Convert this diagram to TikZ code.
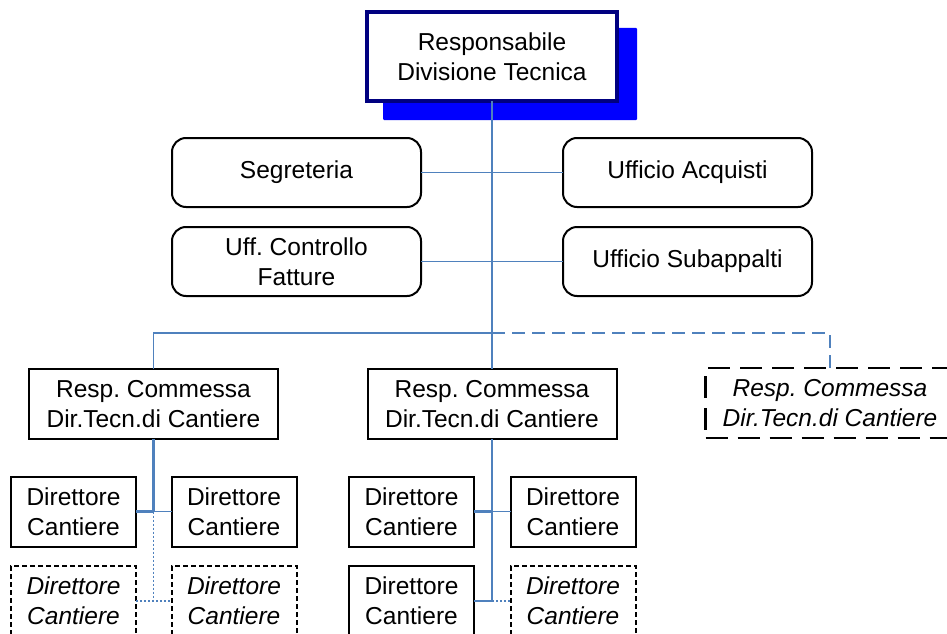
\documentclass[tikz,border=0pt]{standalone}
\usepackage{fontspec}
\setmainfont{Liberation Sans}
\frenchspacing
\definecolor{conn}{RGB}{79,129,189}
\definecolor{navyb}{RGB}{0,0,128}
\definecolor{shadowb}{RGB}{0,0,255}
\begin{document}
\begin{tikzpicture}[x=1pt,y=-1pt,
  every node/.style={font=\fontsize{24.5}{30}\selectfont\frenchspacing, align=center, inner sep=0pt, outer sep=0pt},
  topbox/.style={draw=navyb, line width=4pt, fill=white, minimum width=250pt, minimum height=89pt},
  roundbox/.style={draw=black, line width=2pt, rounded corners=14pt, fill=white, minimum width=249pt, minimum height=69pt},
  respbox/.style={draw=black, line width=2pt, fill=white, minimum width=249pt, minimum height=70pt},
  respdash/.style={respbox, dash pattern=on 22pt off 10pt, line width=2.5pt, font=\fontsize{24.5}{30}\selectfont\frenchspacing\itshape},
  dirbox/.style={draw=black, line width=2pt, fill=white, minimum width=125pt, minimum height=70pt},
  dirdash/.style={dirbox, dash pattern=on 5pt off 3pt, font=\fontsize{24.5}{30}\selectfont\itshape},
  cline/.style={draw=conn, line width=1.9pt},
  cthin/.style={draw=conn, line width=1.5pt},
  cthick/.style={draw=conn, line width=2.8pt},
  cdash/.style={draw=conn, line width=1.8pt, dash pattern=on 13pt off 7pt},
  cdot/.style={draw=conn, line width=1.5pt, dash pattern=on 2pt off 2pt}
]
\useasboundingbox (0,0) rectangle (947,634);
\clip (0,0) rectangle (947,634);
\fill[white] (0,0) rectangle (947,634);

% shadow and top box
\fill[shadowb, rounded corners=1pt] (383,28) rectangle (637,120);
\node[topbox] (top) at (492,56.5) {Responsabile\\Divisione Tecnica};

% staff offices
\node[roundbox] (seg) at (296.5,172.5) {Segreteria};
\node[roundbox] (acq) at (687.5,172.5) {Ufficio Acquisti};
\node[roundbox] (fat) at (296.5,261.5) {Uff. Controllo\\Fatture};
\node[roundbox] (sub) at (687.5,261.5) {Ufficio Subappalti};

% project managers
\node[respbox] (r1) at (153.5,404) {Resp. Commessa\\Dir.Tecn.di Cantiere};
\node[respbox] (r2) at (492,404) {Resp. Commessa\\Dir.Tecn.di Cantiere};
\node[respdash] (r3) at (830,403) {Resp. Commessa\\Dir.Tecn.di Cantiere};

% site directors
\node[dirbox] (d1) at (73.5,511.5) {Direttore\\Cantiere};
\node[dirbox] (d2) at (234,511.5) {Direttore\\Cantiere};
\node[dirdash] (d3) at (73.5,601) {Direttore\\Cantiere};
\node[dirdash] (d4) at (234,601) {Direttore\\Cantiere};
\node[dirbox] (m1) at (411.5,511.5) {Direttore\\Cantiere};
\node[dirbox] (m2) at (573,511.5) {Direttore\\Cantiere};
\node[dirbox] (m3) at (411.5,601) {Direttore\\Cantiere};
\node[dirdash] (m4) at (573,601) {Direttore\\Cantiere};

% junction coordinates
\coordinate (j) at (492,333);
\coordinate (la) at (153.5,511.5);
\coordinate (lb) at (153.5,601);
\coordinate (ma) at (492,511.5);
\coordinate (mb) at (492,601);

% connectors
\draw[cline] (top.south) -- (r2.north);
\draw[cthin] (seg.east) -- (acq.west);
\draw[cthin] (fat.east) -- (sub.west);
\draw[cline] (r1.north) |- (j);
\draw[cdash] (j) -| (r3.north);

\draw[cthick] (r1.south) -- (la);
\draw[cthick] (d1.east) -- (la);
\draw[cthin] (la) -- (d2.west);
\draw[cdot] (la) -- (lb);
\draw[cdot] (d3.east) -- (d4.west);

\draw[cthick] (r2.south) -- (ma);
\draw[cthick] (m1.east) -- (ma);
\draw[cthin] (ma) -- (m2.west);
\draw[draw=conn, line width=1.2pt] (ma) -- (mb);
\draw[cthin] (m3.east) -- (mb);
\draw[cdot] (mb) -- (m4.west);
\end{tikzpicture}
\end{document}
